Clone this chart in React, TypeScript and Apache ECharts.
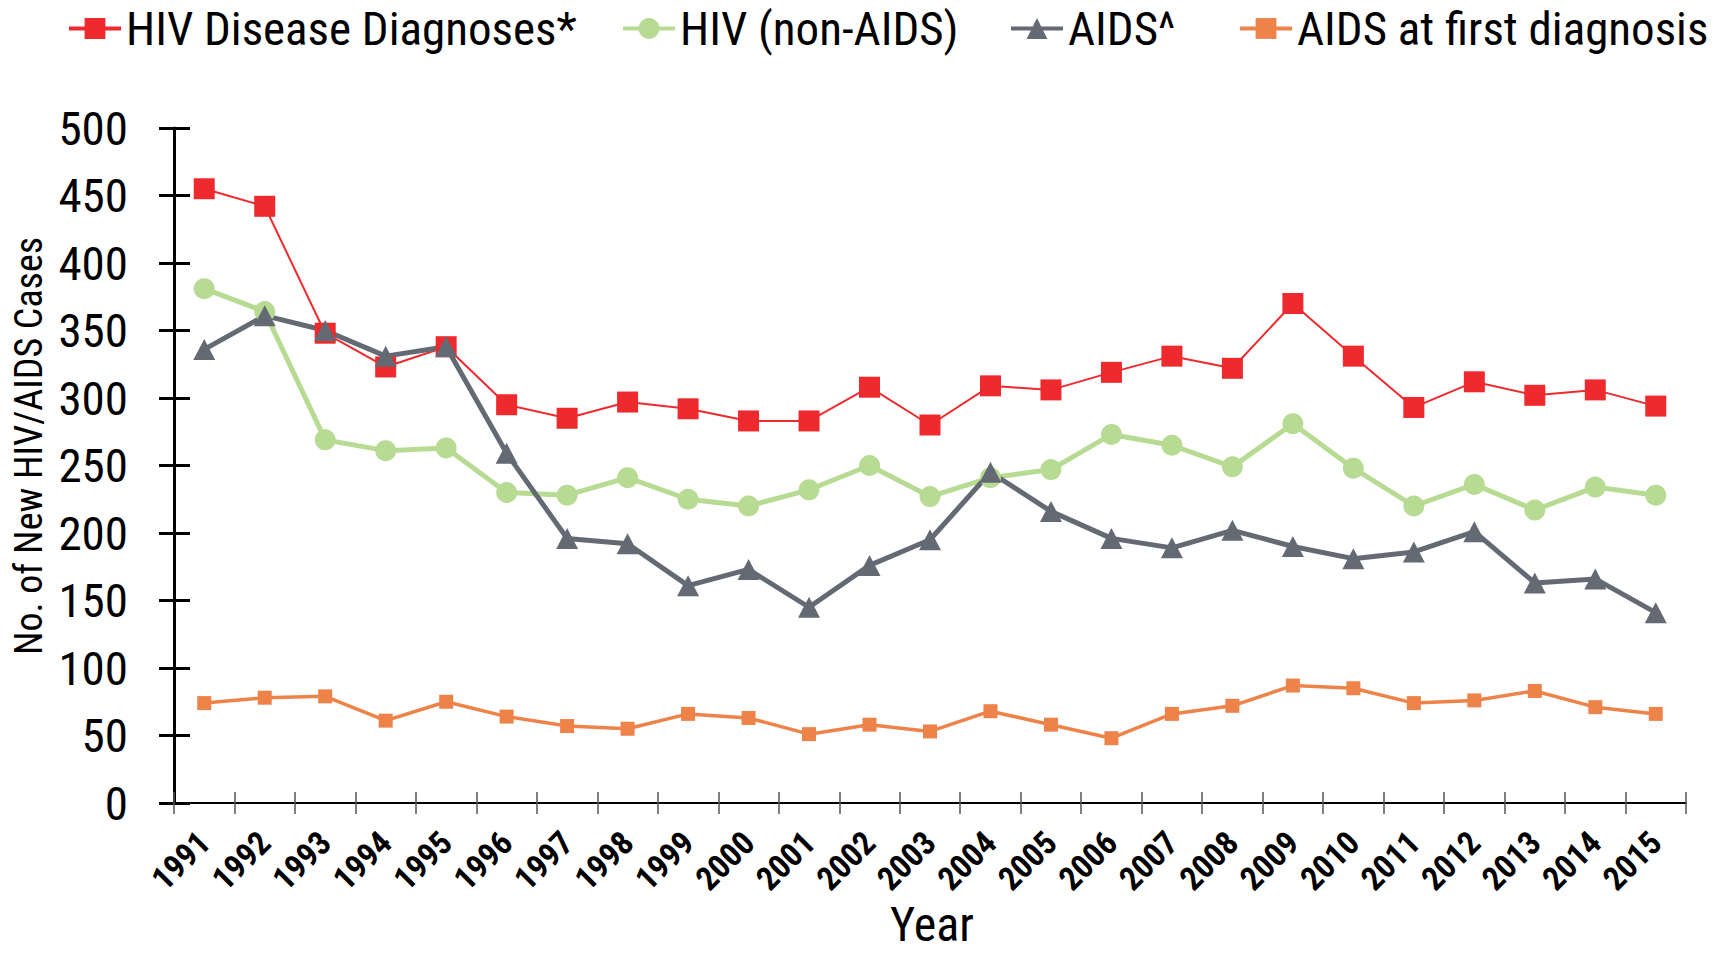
import React, { useEffect, useRef } from "react";
import * as echarts from "echarts";

const years = [
  "1991", "1992", "1993", "1994", "1995", "1996", "1997", "1998", "1999", "2000",
  "2001", "2002", "2003", "2004", "2005", "2006", "2007", "2008", "2009", "2010",
  "2011", "2012", "2013", "2014", "2015",
];

const hivDiseaseDiagnoses = [
  455, 442, 348, 323, 338, 295, 285, 297, 292, 283,
  283, 308, 280, 309, 306, 319, 331, 322, 370, 331,
  293, 312, 302, 306, 294,
];

const hivNonAids = [
  381, 364, 269, 261, 263, 230, 228, 241, 225, 220,
  232, 250, 227, 241, 247, 273, 265, 249, 281, 248,
  220, 236, 217, 234, 228,
];

const aids = [
  336, 361, 350, 331, 338, 259, 196, 192, 161, 173,
  145, 176, 195, 245, 216, 196, 189, 202, 190, 181,
  186, 201, 163, 166, 141,
];

const aidsAtFirstDiagnosis = [
  74, 78, 79, 61, 75, 64, 57, 55, 66, 63,
  51, 58, 53, 68, 58, 48, 66, 72, 87, 85,
  74, 76, 83, 71, 66,
];

const yTicks = { min: 0, max: 500, interval: 50 };

const seriesNames = [
  "HIV Disease Diagnoses*",
  "HIV (non-AIDS)",
  "AIDS^",
  "AIDS at first diagnosis",
];

const NARROW = "'Roboto Condensed', 'Liberation Sans Narrow', 'DejaVu Sans Condensed', Roboto, sans-serif";

export default function App() {
  const ref = useRef<HTMLDivElement>(null);

  useEffect(() => {
    if (!ref.current) return;
    const chart = echarts.init(ref.current, null, { renderer: "svg" });

    const legendBase = {
      top: 0,
      itemWidth: 52,
      itemHeight: 26,
      itemGap: 0,
      lineStyle: { width: 4 },
      textStyle: { fontSize: 47, color: "#000", fontFamily: NARROW },
    };
    const legendLefts = [62, 616, 1004, 1233];

    chart.setOption({
      animation: false,
      backgroundColor: "#fff",
      legend: seriesNames.map((n, i) => ({
        ...legendBase,
        left: legendLefts[i],
        data: [n],
      })),
      grid: {
        left: 174,
        right: 42,
        top: 128,
        bottom: 150,
        containLabel: false,
        outerBoundsMode: "none",
      },
      xAxis: [
        {
          type: "category",
          data: years,
          position: "bottom",
          boundaryGap: true,
          axisLine: { show: true, onZero: false, lineStyle: { color: "#000", width: 2 } },
          axisTick: { show: true, inside: false, length: 11, lineStyle: { color: "#555", width: 1.5 } },
          axisLabel: {
            interval: 0,
            hideOverlap: false,
            rotate: 45,
            margin: 34,
            fontSize: 33,
            fontWeight: "bold",
            color: "#000",
            fontFamily: NARROW,
          },
          splitLine: { show: false },
        },
        {
          type: "category",
          data: years,
          position: "bottom",
          boundaryGap: true,
          axisLine: { show: false },
          axisTick: { show: true, inside: true, length: 11, lineStyle: { color: "#555", width: 1.5 } },
          axisLabel: { show: false },
          splitLine: { show: false },
        },
      ],
      yAxis: [
        {
          type: "value",
          position: "left",
          min: yTicks.min,
          max: yTicks.max,
          interval: yTicks.interval,
          axisLine: { show: true, lineStyle: { color: "#000", width: 3 } },
          axisTick: { show: true, inside: false, length: 15, lineStyle: { color: "#000", width: 3 } },
          axisLabel: {
            margin: 46,
            fontSize: 47,
            color: "#000",
            fontFamily: NARROW,
          },
          splitLine: { show: false },
        },
        {
          type: "value",
          position: "left",
          min: yTicks.min,
          max: yTicks.max,
          interval: yTicks.interval,
          axisLine: { show: false },
          axisTick: { show: true, inside: true, length: 16, lineStyle: { color: "#000", width: 3 } },
          axisLabel: { show: false },
          splitLine: { show: false },
        },
      ],
      graphic: [
        {
          type: "text",
          x: 29,
          y: 446,
          rotation: Math.PI / 2,
          style: {
            text: "No. of New HIV/AIDS Cases",
            fontSize: 38,
            fontFamily: NARROW,
            fill: "#000",
            align: "center",
            verticalAlign: "middle",
          },
        },
        {
          type: "text",
          x: 932,
          y: 924,
          style: {
            text: "Year",
            fontSize: 48,
            fontFamily: NARROW,
            fill: "#000",
            align: "center",
            verticalAlign: "middle",
          },
        },
      ],
      series: [
        {
          name: seriesNames[0],
          type: "line",
          data: hivDiseaseDiagnoses,
          symbol: "rect",
          symbolSize: 21,
          lineStyle: { color: "#EE2A2E", width: 2 },
          itemStyle: { color: "#EE2A2E", borderWidth: 0 },
        },
        {
          name: seriesNames[1],
          type: "line",
          data: hivNonAids,
          symbol: "circle",
          symbolSize: 21,
          lineStyle: { color: "#B8DB94", width: 5 },
          itemStyle: { color: "#B8DB94", borderWidth: 0 },
        },
        {
          name: seriesNames[2],
          type: "line",
          data: aids,
          symbol: "triangle",
          symbolSize: [22, 21],
          lineStyle: { color: "#636A73", width: 5 },
          itemStyle: { color: "#636A73", borderWidth: 0 },
        },
        {
          name: seriesNames[3],
          type: "line",
          data: aidsAtFirstDiagnosis,
          symbol: "rect",
          symbolSize: 14,
          lineStyle: { color: "#EE834A", width: 3.5 },
          itemStyle: { color: "#EE834A", borderWidth: 0 },
        },
      ],
    });

    return () => chart.dispose();
  }, []);

  return (
    <div
      ref={ref}
      style={{ position: "fixed", left: 0, top: 0, width: 1728, height: 953, background: "#fff" }}
    />
  );
}
